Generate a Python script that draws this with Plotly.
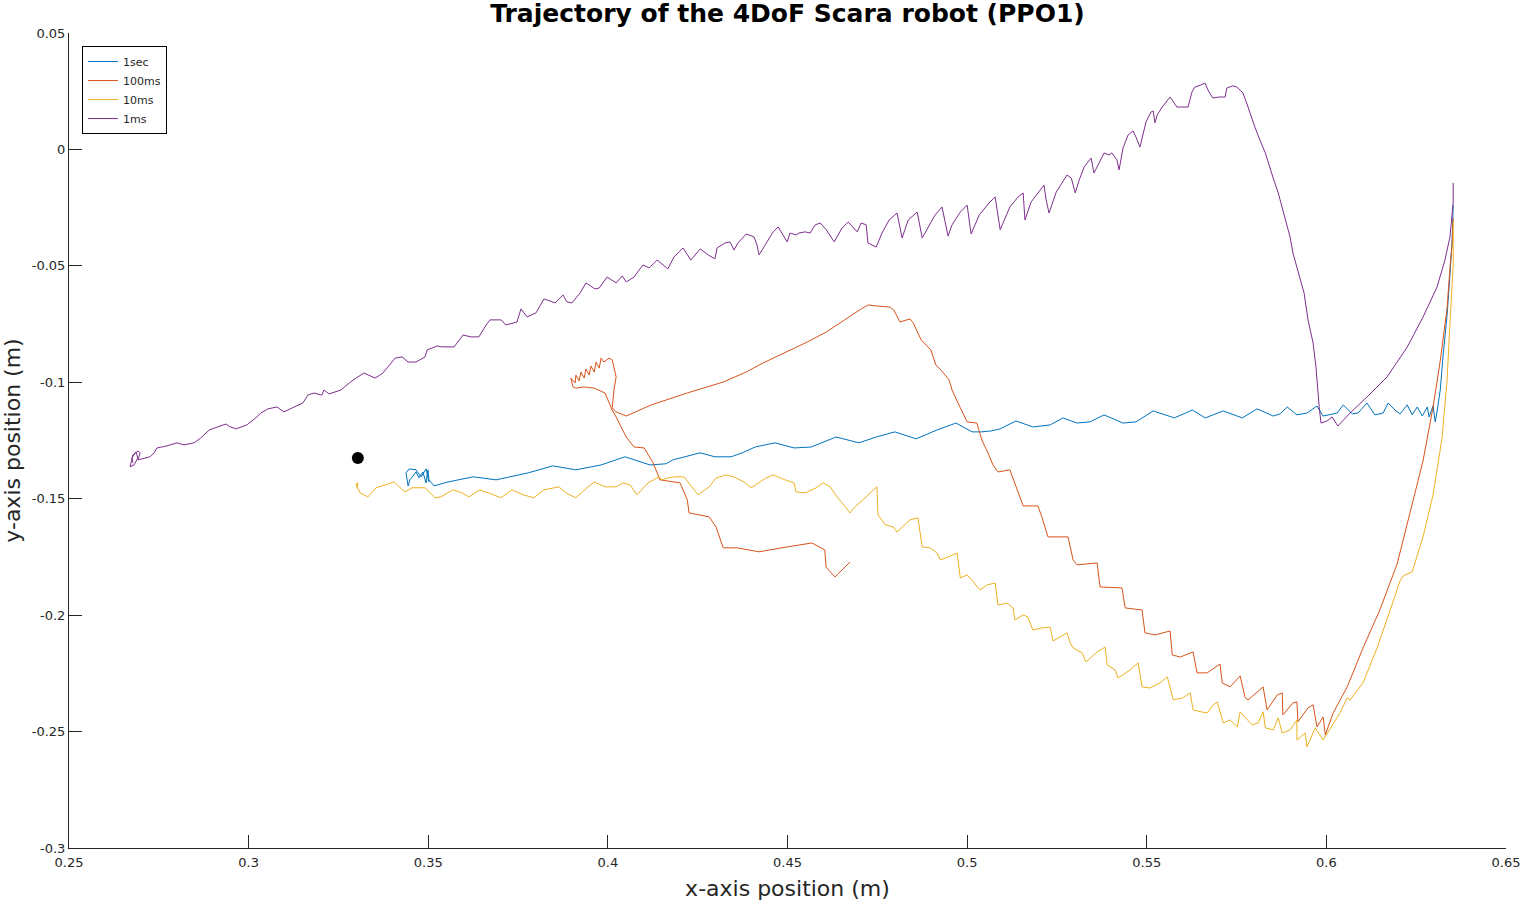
import plotly.graph_objects as go

# 1sec run
x_1sec = [0.6353, 0.6350, 0.6344, 0.6336, 0.6325, 0.6317, 0.6308, 0.6303, 0.6297, 0.6286,
          0.6281, 0.6267, 0.6253, 0.6239, 0.6225, 0.6205, 0.6191, 0.6172, 0.6158, 0.6135,
          0.6113, 0.6088, 0.6072, 0.6047, 0.6030, 0.5991, 0.5974, 0.5946, 0.5918, 0.5891,
          0.5871, 0.5852, 0.5807, 0.5766, 0.5713, 0.5663, 0.5627, 0.5577, 0.5518, 0.5470,
          0.5434, 0.5381, 0.5342, 0.5306, 0.5267, 0.5231, 0.5183, 0.5136, 0.5092, 0.5067,
          0.5039, 0.5014, 0.4969, 0.4916, 0.4858, 0.4799, 0.4747, 0.4699, 0.4635, 0.4566,
          0.4518, 0.4465, 0.4410, 0.4374, 0.4343, 0.4298, 0.4257, 0.4181, 0.4162, 0.4117,
          0.4048, 0.3981, 0.3911, 0.3847, 0.3778, 0.3689, 0.3625, 0.3555, 0.3516, 0.3502,
          0.3499, 0.3494, 0.3485, 0.3474, 0.3466, 0.3449, 0.3444, 0.3438, 0.3447, 0.3466,
          0.3480, 0.3494, 0.3502]
y_1sec = [-0.0239, -0.0389, -0.0539, -0.0711, -0.0882, -0.1033, -0.1127, -0.1170, -0.1101, -0.1149,
          -0.1106, -0.1145, -0.1106, -0.1140, -0.1097, -0.1136, -0.1119, -0.1089, -0.1132, -0.1140,
          -0.1089, -0.1132, -0.1136, -0.1097, -0.1132, -0.1145, -0.1102, -0.1132, -0.1140, -0.1106,
          -0.1136, -0.1145, -0.1114, -0.1153, -0.1123, -0.1153, -0.1119, -0.1153, -0.1123, -0.1170,
          -0.1175, -0.1140, -0.1170, -0.1175, -0.1153, -0.1183, -0.1192, -0.1166, -0.1200, -0.1209,
          -0.1213, -0.1213, -0.1175, -0.1205, -0.1243, -0.1213, -0.1235, -0.1260, -0.1235, -0.1278,
          -0.1282, -0.1260, -0.1278, -0.1303, -0.1320, -0.1320, -0.1303, -0.1333, -0.1350, -0.1355,
          -0.1320, -0.1355, -0.1376, -0.1359, -0.1389, -0.1419, -0.1406, -0.1428, -0.1445, -0.1419,
          -0.1376, -0.1432, -0.1385, -0.1410, -0.1385, -0.1419, -0.1445, -0.1389, -0.1372, -0.1376,
          -0.1406, -0.1372, -0.1428]

# 100ms run
x_100ms = [0.6353, 0.6350, 0.6344, 0.6336, 0.6317, 0.6297, 0.6269, 0.6233, 0.6197, 0.6149,
           0.6102, 0.6058, 0.6019, 0.5997, 0.5991, 0.5974, 0.5963, 0.5949, 0.5921, 0.5918,
           0.5907, 0.5879, 0.5877, 0.5863, 0.5835, 0.5824, 0.5782, 0.5774, 0.5760, 0.5732,
           0.5710, 0.5704, 0.5668, 0.5640, 0.5629, 0.5593, 0.5571, 0.5565, 0.5523, 0.5495,
           0.5487, 0.5440, 0.5431, 0.5370, 0.5362, 0.5306, 0.5295, 0.5281, 0.5225, 0.5208,
           0.5197, 0.5156, 0.5133, 0.5119, 0.5086, 0.5072, 0.5058, 0.5041, 0.5027, 0.5000,
           0.4981, 0.4958, 0.4950, 0.4927, 0.4913, 0.4899, 0.4872, 0.4850, 0.4841, 0.4813,
           0.4796, 0.4785, 0.4747, 0.4724, 0.4705, 0.4660, 0.4608, 0.4555, 0.4490, 0.4432,
           0.4385, 0.4321, 0.4257, 0.4221, 0.4121, 0.4051, 0.4023, 0.4012, 0.4017, 0.4023,
           0.4012, 0.4003, 0.3989, 0.3981, 0.3976, 0.3967, 0.3962, 0.3953, 0.3948, 0.3939,
           0.3934, 0.3925, 0.3920, 0.3911, 0.3909, 0.3897, 0.3903, 0.3911, 0.3934, 0.3962,
           0.3992, 0.4012, 0.4023, 0.4051, 0.4073, 0.4101, 0.4126, 0.4145, 0.4201, 0.4221,
           0.4226, 0.4282, 0.4301, 0.4321, 0.4360, 0.4421, 0.4499, 0.4568, 0.4604, 0.4607,
           0.4632, 0.4674]
y_100ms = [-0.0294, -0.0410, -0.0509, -0.0681, -0.0908, -0.1106, -0.1338, -0.1565, -0.1780, -0.1977,
           -0.2141, -0.2308, -0.2420, -0.2514, -0.2437, -0.2480, -0.2385, -0.2398, -0.2458, -0.2372,
           -0.2377, -0.2428, -0.2334, -0.2343, -0.2407, -0.2308, -0.2364, -0.2355, -0.2261, -0.2308,
           -0.2291, -0.2210, -0.2248, -0.2248, -0.2158, -0.2180, -0.2171, -0.2068, -0.2085, -0.2076,
           -0.1978, -0.1969, -0.1883, -0.1879, -0.1776, -0.1784, -0.1763, -0.1664, -0.1664, -0.1578,
           -0.1531, -0.1531, -0.1432, -0.1376, -0.1385, -0.1355, -0.1303, -0.1248, -0.1175, -0.1170,
           -0.1110, -0.1033, -0.0990, -0.0947, -0.0926, -0.0861, -0.0818, -0.0745, -0.0728, -0.0741,
           -0.0690, -0.0677, -0.0672, -0.0668, -0.0685, -0.0732, -0.0784, -0.0827, -0.0874, -0.0917,
           -0.0956, -0.0999, -0.1029, -0.1046, -0.1097, -0.1145, -0.1127, -0.1110, -0.1033, -0.0977,
           -0.0904, -0.0896, -0.0913, -0.0896, -0.0939, -0.0913, -0.0956, -0.0930, -0.0969, -0.0943,
           -0.0982, -0.0956, -0.0994, -0.0969, -0.1003, -0.0982, -0.1020, -0.1025, -0.1020, -0.1025,
           -0.1046, -0.1119, -0.1149, -0.1235, -0.1278, -0.1282, -0.1346, -0.1419, -0.1432, -0.1505,
           -0.1561, -0.1578, -0.1621, -0.1711, -0.1711, -0.1728, -0.1707, -0.1690, -0.1720, -0.1793,
           -0.1836, -0.1772]

# 10ms run
x_10ms = [0.6353, 0.6353, 0.6344, 0.6336, 0.6322, 0.6297, 0.6269, 0.6239, 0.6214, 0.6205,
          0.6178, 0.6141, 0.6102, 0.6066, 0.6058, 0.6038, 0.5991, 0.5969, 0.5946, 0.5941,
          0.5918, 0.5918, 0.5899, 0.5877, 0.5866, 0.5852, 0.5830, 0.5824, 0.5810, 0.5794,
          0.5780, 0.5760, 0.5752, 0.5732, 0.5713, 0.5696, 0.5685, 0.5668, 0.5654, 0.5629,
          0.5621, 0.5599, 0.5574, 0.5557, 0.5537, 0.5509, 0.5487, 0.5476, 0.5454, 0.5420,
          0.5412, 0.5390, 0.5384, 0.5362, 0.5331, 0.5320, 0.5295, 0.5287, 0.5278, 0.5259,
          0.5239, 0.5231, 0.5208, 0.5183, 0.5169, 0.5156, 0.5133, 0.5128, 0.5111, 0.5086,
          0.5078, 0.5056, 0.5036, 0.5017, 0.5000, 0.4981, 0.4972, 0.4947, 0.4925, 0.4916,
          0.4897, 0.4875, 0.4863, 0.4841, 0.4819, 0.4805, 0.4794, 0.4772, 0.4752, 0.4749,
          0.4730, 0.4719, 0.4688, 0.4674, 0.4657, 0.4638, 0.4619, 0.4599, 0.4580, 0.4549,
          0.4524, 0.4518, 0.4493, 0.4460, 0.4440, 0.4399, 0.4379, 0.4351, 0.4329, 0.4301,
          0.4282, 0.4251, 0.4240, 0.4212, 0.4187, 0.4167, 0.4151, 0.4142, 0.4112, 0.4081,
          0.4062, 0.4042, 0.4023, 0.3992, 0.3962, 0.3942, 0.3911, 0.3883, 0.3864, 0.3822,
          0.3794, 0.3764, 0.3733, 0.3702, 0.3674, 0.3644, 0.3613, 0.3594, 0.3569, 0.3535,
          0.3519, 0.3491, 0.3455, 0.3435, 0.3405, 0.3377, 0.3355, 0.3332, 0.3310, 0.3302,
          0.3299, 0.3304, 0.3302]
y_10ms = [-0.0311, -0.0500, -0.0745, -0.0990, -0.1239, -0.1483, -0.1664, -0.1814, -0.1831, -0.1853,
          -0.1977, -0.2141, -0.2291, -0.2364, -0.2355, -0.2420, -0.2536, -0.2484, -0.2566, -0.2506,
          -0.2536, -0.2450, -0.2493, -0.2506, -0.2441, -0.2493, -0.2484, -0.2415, -0.2463, -0.2471,
          -0.2450, -0.2415, -0.2480, -0.2450, -0.2463, -0.2373, -0.2386, -0.2420, -0.2416, -0.2407,
          -0.2334, -0.2356, -0.2364, -0.2265, -0.2291, -0.2313, -0.2308, -0.2205, -0.2235, -0.2270,
          -0.2235, -0.2214, -0.2137, -0.2158, -0.2201, -0.2162, -0.2141, -0.2119, -0.2076, -0.2094,
          -0.2111, -0.2051, -0.2055, -0.2064, -0.2008, -0.1999, -0.2021, -0.1969, -0.1948, -0.1956,
          -0.1862, -0.1870, -0.1892, -0.1857, -0.1827, -0.1840, -0.1733, -0.1750, -0.1763, -0.1733,
          -0.1711, -0.1707, -0.1582, -0.1591, -0.1621, -0.1643, -0.1621, -0.1612, -0.1569, -0.1449,
          -0.1475, -0.1492, -0.1535, -0.1561, -0.1527, -0.1492, -0.1449, -0.1432, -0.1453, -0.1475,
          -0.1471, -0.1432, -0.1419, -0.1398, -0.1411, -0.1453, -0.1428, -0.1406, -0.1398, -0.1411,
          -0.1449, -0.1483, -0.1462, -0.1406, -0.1406, -0.1411, -0.1419, -0.1406, -0.1432, -0.1483,
          -0.1441, -0.1432, -0.1449, -0.1449, -0.1428, -0.1453, -0.1496, -0.1475, -0.1449, -0.1462,
          -0.1496, -0.1483, -0.1462, -0.1496, -0.1479, -0.1462, -0.1492, -0.1475, -0.1462, -0.1492,
          -0.1496, -0.1453, -0.1453, -0.1471, -0.1428, -0.1441, -0.1453, -0.1492, -0.1475, -0.1449,
          -0.1436, -0.1432, -0.1453]

# 1ms run
x_1ms = [0.6353, 0.6353, 0.6344, 0.6330, 0.6308, 0.6269, 0.6225, 0.6169, 0.6113, 0.6066,
         0.6032, 0.6016, 0.6002, 0.5985, 0.5980, 0.5971, 0.5963, 0.5949, 0.5938, 0.5921,
         0.5907, 0.5899, 0.5888, 0.5877, 0.5866, 0.5852, 0.5838, 0.5830, 0.5815, 0.5801,
         0.5782, 0.5768, 0.5751, 0.5740, 0.5723, 0.5718, 0.5701, 0.5684, 0.5673, 0.5662,
         0.5651, 0.5634, 0.5626, 0.5615, 0.5598, 0.5584, 0.5565, 0.5554, 0.5543, 0.5529,
         0.5523, 0.5518, 0.5512, 0.5498, 0.5481, 0.5470, 0.5462, 0.5448, 0.5434, 0.5423,
         0.5417, 0.5403, 0.5395, 0.5381, 0.5376, 0.5353, 0.5345, 0.5326, 0.5312, 0.5301,
         0.5290, 0.5278, 0.5264, 0.5248, 0.5228, 0.5220, 0.5214, 0.5200, 0.5178, 0.5161,
         0.5156, 0.5142, 0.5119, 0.5092, 0.5078, 0.5061, 0.5034, 0.5011, 0.5000, 0.4981,
         0.4958, 0.4947, 0.4930, 0.4911, 0.4891, 0.4875, 0.4861, 0.4836, 0.4819, 0.4805,
         0.4783, 0.4763, 0.4747, 0.4724, 0.4719, 0.4705, 0.4694, 0.4669, 0.4652, 0.4630,
         0.4608, 0.4591, 0.4577, 0.4563, 0.4549, 0.4532, 0.4524, 0.4507, 0.4499, 0.4474,
         0.4460, 0.4443, 0.4421, 0.4415, 0.4407, 0.4385, 0.4362, 0.4351, 0.4340, 0.4326,
         0.4304, 0.4298, 0.4279, 0.4257, 0.4231, 0.4209, 0.4184, 0.4167, 0.4145, 0.4137,
         0.4115, 0.4098, 0.4087, 0.4073, 0.4051, 0.4040, 0.4023, 0.3998, 0.3976, 0.3964,
         0.3939, 0.3923, 0.3900, 0.3886, 0.3875, 0.3853, 0.3822, 0.3800, 0.3775, 0.3758,
         0.3747, 0.3716, 0.3703, 0.3672, 0.3661, 0.3641, 0.3619, 0.3597, 0.3572, 0.3538,
         0.3525, 0.3497, 0.3491, 0.3466, 0.3444, 0.3427, 0.3408, 0.3391, 0.3374, 0.3352,
         0.3321, 0.3299, 0.3280, 0.3257, 0.3241, 0.3224, 0.3210, 0.3204, 0.3182, 0.3165,
         0.3151, 0.3124, 0.3098, 0.3079, 0.3054, 0.3034, 0.3020, 0.2995, 0.2965, 0.2948,
         0.2937, 0.2906, 0.2890, 0.2867, 0.2848, 0.2820, 0.2801, 0.2773, 0.2745, 0.2737,
         0.2725, 0.2703, 0.2692, 0.2698, 0.2692, 0.2678, 0.2670, 0.2681, 0.2692, 0.2686,
         0.2675, 0.2678]
y_1ms = [-0.0144, -0.0230, -0.0376, -0.0475, -0.0591, -0.0720, -0.0849, -0.0977, -0.1063, -0.1132,
         -0.1188, -0.1149, -0.1166, -0.1175, -0.1106, -0.0934, -0.0831, -0.0733, -0.0617, -0.0518,
         -0.0445, -0.0376, -0.0312, -0.0260, -0.0187, -0.0123, -0.0058, -0.0015, 0.0040, 0.0096,
         0.0182, 0.0242, 0.0268, 0.0273, 0.0264, 0.0225, 0.0225, 0.0221, 0.0247, 0.0285,
         0.0277, 0.0268, 0.0247, 0.0182, 0.0182, 0.0182, 0.0225, 0.0204, 0.0182, 0.0148,
         0.0114, 0.0165, 0.0161, 0.0118, 0.0010, 0.0053, 0.0079, 0.0062, 0.0006, -0.0088,
         -0.0045, -0.0015, -0.0024, -0.0015, -0.0032, -0.0101, -0.0037, -0.0075, -0.0131, -0.0187,
         -0.0123, -0.0110, -0.0144, -0.0183, -0.0273, -0.0217, -0.0153, -0.0183, -0.0226, -0.0303,
         -0.0187, -0.0204, -0.0247, -0.0345, -0.0204, -0.0230, -0.0281, -0.0363, -0.0239, -0.0269,
         -0.0324, -0.0372, -0.0247, -0.0281, -0.0337, -0.0380, -0.0269, -0.0303, -0.0380, -0.0273,
         -0.0303, -0.0359, -0.0419, -0.0402, -0.0324, -0.0316, -0.0354, -0.0312, -0.0337, -0.0397,
         -0.0345, -0.0316, -0.0324, -0.0359, -0.0354, -0.0359, -0.0367, -0.0359, -0.0397, -0.0333,
         -0.0354, -0.0397, -0.0453, -0.0410, -0.0376, -0.0363, -0.0402, -0.0432, -0.0397, -0.0402,
         -0.0423, -0.0470, -0.0453, -0.0427, -0.0475, -0.0423, -0.0462, -0.0513, -0.0487, -0.0475,
         -0.0509, -0.0496, -0.0518, -0.0548, -0.0569, -0.0543, -0.0573, -0.0548, -0.0595, -0.0599,
         -0.0573, -0.0616, -0.0659, -0.0655, -0.0625, -0.0659, -0.0642, -0.0702, -0.0719, -0.0685,
         -0.0741, -0.0754, -0.0732, -0.0732, -0.0754, -0.0805, -0.0805, -0.0797, -0.0848, -0.0848,
         -0.0844, -0.0861, -0.0891, -0.0913, -0.0913, -0.0891, -0.0896, -0.0926, -0.0960, -0.0982,
         -0.0960, -0.0982, -0.1003, -0.1033, -0.1042, -0.1050, -0.1033, -0.1055, -0.1046, -0.1055,
         -0.1089, -0.1110, -0.1127, -0.1106, -0.1114, -0.1132, -0.1153, -0.1183, -0.1200, -0.1191,
         -0.1179, -0.1196, -0.1205, -0.1239, -0.1260, -0.1269, -0.1260, -0.1273, -0.1282, -0.1303,
         -0.1320, -0.1329, -0.1333, -0.1303, -0.1295, -0.1312, -0.1363, -0.1355, -0.1325, -0.1299,
         -0.1325, -0.1346]

# target point
target_x = [0.3304]
target_y = [-0.1325]

x_ticks = [0.25, 0.3, 0.35, 0.4, 0.45, 0.5, 0.55, 0.6, 0.65]
x_tick_labels = ['0.25', '0.3', '0.35', '0.4', '0.45', '0.5', '0.55', '0.6', '0.65']
y_ticks = [-0.3, -0.25, -0.2, -0.15, -0.1, -0.05, 0, 0.05]
y_tick_labels = ['-0.3', '-0.25', '-0.2', '-0.15', '-0.1', '-0.05', '0', '0.05']

series = [
    ('1sec', x_1sec, y_1sec, '#0072BD'),
    ('100ms', x_100ms, y_100ms, '#D95319'),
    ('10ms', x_10ms, y_10ms, '#EDB120'),
    ('1ms', x_1ms, y_1ms, '#7E2F8E'),
]

fig = go.Figure()
for name, xs, ys, col in series:
    fig.add_trace(go.Scatter(x=xs, y=ys, mode='lines', name=name,
                             line=dict(color=col, width=1)))

fig.add_trace(go.Scatter(x=target_x, y=target_y, mode='markers', showlegend=False,
                         marker=dict(color='black', size=12)))

axis_col = '#262626'
fig.update_layout(
    width=1521, height=901,
    margin=dict(l=69, r=15, t=33, b=53),
    paper_bgcolor='white', plot_bgcolor='white',
    font=dict(family='DejaVu Sans', size=13, color=axis_col),
    title=dict(text='<b>Trajectory of the 4DoF Scara robot (PPO1)</b>',
               xref='paper', x=0.5, xanchor='center', y=0.9856, yanchor='middle',
               font=dict(size=25, color='black')),
    legend=dict(x=0.009, y=0.984, xanchor='left', yanchor='top',
                bgcolor='white', bordercolor='black', borderwidth=1,
                font=dict(size=11, color=axis_col), tracegroupgap=0),
    showlegend=True,
)
fig.update_xaxes(range=[0.25, 0.65], tickvals=x_ticks, ticktext=x_tick_labels,
                 showgrid=False, zeroline=False, showline=True, linecolor=axis_col,
                 linewidth=1, ticks='inside', ticklen=13, tickcolor=axis_col,
                 ticklabelstandoff=2, automargin=False,
                 title=dict(text='x-axis position (m)', font=dict(size=22, color=axis_col), standoff=14))
fig.update_yaxes(range=[-0.3, 0.05], tickvals=y_ticks, ticktext=y_tick_labels,
                 showgrid=False, zeroline=False, showline=True, linecolor=axis_col,
                 linewidth=1, ticks='inside', ticklen=13, tickcolor=axis_col,
                 automargin=False,
                 title=dict(text='y-axis position (m)', font=dict(size=22, color=axis_col), standoff=14))

# page body margin off so the figure sits at the window origin
fig.write_html('out.html', config={'displayModeBar': False},
               post_script="document.body.style.margin='0';")
